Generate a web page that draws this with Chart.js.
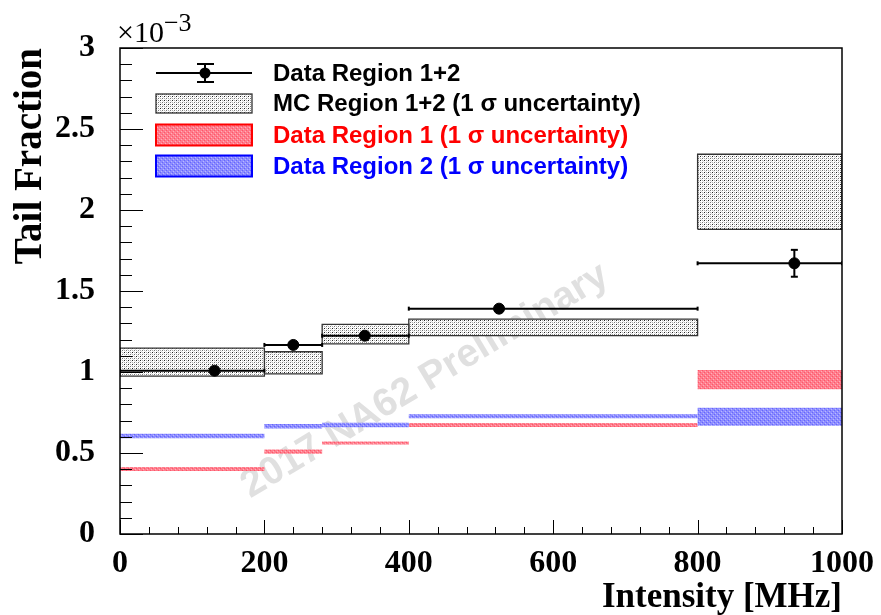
<!DOCTYPE html>
<html>
<head>
<meta charset="utf-8">
<script src="https://cdn.jsdelivr.net/npm/chart.js@4.4.1/dist/chart.umd.min.js"></script>
<style>
  body { margin: 0; background: #fff; }
  canvas { display: block; }
</style>
</head>
<body>
<canvas id="myChart" width="881" height="615"></canvas>
<script>
// bins in MHz
const binEdges = [0, 200, 280, 400, 800, 1000];

// data region 1+2 (points with errors), units of 1e-3
const dataX = [131, 240, 339, 525, 934];
const dataY = [1.008, 1.167, 1.224, 1.391, 1.671];
const dataYErr = [0.012, 0.012, 0.013, 0.015, 0.083];

// MC region 1+2, 1 sigma band
const mcLow = [0.975, 0.988, 1.173, 1.224, 1.881];
const mcHigh = [1.147, 1.125, 1.294, 1.327, 2.344];

// data region 1, 1 sigma band
const r1Low = [0.389, 0.495, 0.553, 0.661, 0.893];
const r1High = [0.414, 0.521, 0.571, 0.685, 1.012];

// data region 2, 1 sigma band
const r2Low = [0.591, 0.651, 0.659, 0.714, 0.668];
const r2High = [0.619, 0.679, 0.687, 0.739, 0.780];

const xTicks = [0, 200, 400, 600, 800, 1000];
const yTicks = [0, 0.5, 1, 1.5, 2, 2.5, 3];

const legendLabels = [
  "Data Region 1+2",
  "MC Region 1+2 (1 \u03c3 uncertainty)",
  "Data Region 1 (1 \u03c3 uncertainty)",
  "Data Region 2 (1 \u03c3 uncertainty)",
];
const legendColors = ["#000000", "#000000", "#ff0000", "#0000ff"];

/*fill patterns like the ROOT hatches*/
function makePattern(size, base, dots) {
  const c = document.createElement("canvas");
  c.width = size;
  c.height = size;
  const g = c.getContext("2d");
  g.fillStyle = base;
  g.fillRect(0, 0, size, size);
  dots.forEach((d) => {
    g.fillStyle = d[2];
    g.fillRect(d[0], d[1], 1, 1);
  });
  return g.createPattern(c, "repeat");
}
const ctx = document.getElementById("myChart").getContext("2d");
const mcPattern = makePattern(4, "#ffffff", [
  [0, 0, "#222"], [2, 2, "#777"], [0, 2, "#aaa"], [2, 0, "#aaa"],
  [1, 3, "#ddd"], [3, 1, "#ddd"],
]);
const redPattern = makePattern(4, "rgb(255,125,140)", [
  [0, 0, "rgb(255,85,105)"], [2, 2, "rgb(255,85,105)"],
  [1, 3, "rgb(255,175,185)"], [3, 1, "rgb(255,175,185)"],
]);
const bluePattern = makePattern(4, "rgb(140,140,255)", [
  [0, 0, "rgb(100,100,255)"], [2, 2, "rgb(100,100,255)"],
  [1, 3, "rgb(185,185,255)"], [3, 1, "rgb(185,185,255)"],
]);

function box(x0, x1, lo, hi) {
  return [
    { x: x0, y: lo }, { x: x1, y: lo }, { x: x1, y: hi },
    { x: x0, y: hi }, { x: x0, y: lo },
  ];
}

/*datasets, first one is drawn on top*/
const datasets = [];
datasets.push({
  label: legendLabels[0],
  data: dataX.map((x, i) => ({ x: x, y: dataY[i] })),
  pointRadius: 5.5,
  pointBackgroundColor: "#000",
  pointBorderColor: "#000",
  showLine: false,
});
for (let i = 0; i < dataX.length; i++) {
  datasets.push({
    data: [
      { x: dataX[i], y: dataY[i] - dataYErr[i] },
      { x: dataX[i], y: dataY[i] + dataYErr[i] },
    ],
    showLine: true,
    borderColor: "#000",
    borderWidth: 2,
    pointStyle: "line",
    pointRadius: 3.5,
    pointBorderWidth: 2,
    pointBorderColor: "#000",
  });
  datasets.push({
    data: [
      { x: binEdges[i], y: dataY[i] },
      { x: binEdges[i + 1], y: dataY[i] },
    ],
    showLine: true,
    borderColor: "#000",
    borderWidth: 2,
    pointStyle: "line",
    pointRotation: 90,
    pointRadius: 2,
    pointBorderWidth: 2,
    pointBorderColor: "#000",
  });
}
const bands = [
  [r2Low, r2High, bluePattern, "rgba(0,0,0,0)", 0],
  [r1Low, r1High, redPattern, "rgba(0,0,0,0)", 0],
  [mcLow, mcHigh, mcPattern, "#333", 1.3],
];
bands.forEach((b) => {
  for (let i = 0; i < b[0].length; i++) {
    datasets.push({
      data: box(binEdges[i], binEdges[i + 1], b[0][i], b[1][i]),
      showLine: true,
      fill: "shape",
      tension: 0,
      backgroundColor: b[2],
      borderColor: b[3],
      borderWidth: b[4],
      pointRadius: 0,
    });
  }
});

const serifBold = { family: "'Liberation Serif', 'Times New Roman', serif", weight: "bold", size: 32 };

const decorations = {
  id: "decorations",
  beforeDatasetsDraw(chart) {
    const c = chart.ctx;
    c.save();
    c.translate(425, 381);
    c.rotate(-31 * Math.PI / 180);
    c.font = "bold 39px 'Liberation Sans', Arial, sans-serif";
    c.fillStyle = "#e0e0e0";
    c.textAlign = "center";
    c.textBaseline = "middle";
    c.fillText("2017 NA62 Preliminary", 0, 0);
    c.restore();
  },
  afterDatasetsDraw(chart) {
    const c = chart.ctx;
    const a = chart.chartArea;
    const xs = chart.scales.x;
    const ys = chart.scales.y;
    c.save();
    c.strokeStyle = "#000";
    c.lineWidth = 1;
    c.beginPath();
    for (let v = 0; v <= 1000; v += 40) {
      const px = Math.round(xs.getPixelForValue(v)) + 0.5;
      const len = v % 200 === 0 ? 14 : 7;
      c.moveTo(px, a.bottom);
      c.lineTo(px, a.bottom - len);
    }
    for (let i = 0; i <= 30; i++) {
      const py = Math.round(ys.getPixelForValue(i / 10)) + 0.5;
      const len = i % 5 === 0 ? 23 : 12;
      c.moveTo(a.left, py);
      c.lineTo(a.left + len, py);
    }
    c.stroke();
    c.lineWidth = 1.5;
    c.strokeRect(a.left, a.top, a.right - a.left, a.bottom - a.top);
    c.restore();
  },
  afterDraw(chart) {
    const c = chart.ctx;
    c.save();
    // exponent of the y axis
    c.fillStyle = "#000";
    c.textAlign = "left";
    c.textBaseline = "alphabetic";
    c.font = "30px 'Liberation Serif', serif";
    c.fillText("\u00d710", 117, 42);
    const w = c.measureText("\u00d710").width;
    c.font = "26px 'Liberation Serif', serif";
    c.fillText("\u22123", 117 + w, 31);

    // legend
    const symL = 156, symR = 252, textX = 273;
    const rowY = [73, 103.5, 135, 166];
    const fills = [null, mcPattern, redPattern, bluePattern];
    const borders = [null, "#333", "#ff0000", "#0000ff"];
    c.strokeStyle = "#000";
    c.lineWidth = 2;
    c.beginPath();
    c.moveTo(symL, rowY[0]);
    c.lineTo(symR, rowY[0]);
    c.moveTo(205, rowY[0] - 9);
    c.lineTo(205, rowY[0] + 9);
    c.moveTo(197, rowY[0] - 9);
    c.lineTo(214, rowY[0] - 9);
    c.moveTo(197, rowY[0] + 9);
    c.lineTo(214, rowY[0] + 9);
    c.stroke();
    c.fillStyle = "#000";
    c.beginPath();
    c.arc(205, rowY[0], 5.5, 0, Math.PI * 2);
    c.fill();
    for (let i = 1; i < 4; i++) {
      const h = i === 1 ? 19 : 21;
      c.fillStyle = fills[i];
      c.fillRect(symL, rowY[i] - h / 2, symR - symL, h);
      c.strokeStyle = borders[i];
      c.lineWidth = i === 1 ? 1.3 : 2;
      c.strokeRect(symL, rowY[i] - h / 2, symR - symL, h);
    }
    c.font = "bold 24px 'Liberation Sans', Arial, sans-serif";
    c.textBaseline = "middle";
    legendLabels.forEach((t, i) => {
      c.fillStyle = legendColors[i];
      c.fillText(t, textX, rowY[i] + 1);
    });
    c.restore();
  },
};

new Chart(ctx, {
  type: "scatter",
  data: { datasets: datasets },
  options: {
    responsive: false,
    animation: false,
    layout: { padding: { top: 48, right: 39, left: 0, bottom: 0 } },
    plugins: {
      legend: { display: false },
      tooltip: { enabled: false },
    },
    scales: {
      x: {
        type: "linear",
        min: 0,
        max: 1000,
        afterBuildTicks: (scale) => {
          scale.ticks = xTicks.map((v) => ({ value: v }));
        },
        afterFit: (scale) => {
          scale.height = 81;
        },
        ticks: {
          color: "#000",
          font: serifBold,
          padding: 3,
          maxRotation: 0,
          callback: (v) => String(v),
        },
        grid: { display: false },
        border: { display: false },
        title: {
          display: true,
          text: "Intensity [MHz]",
          align: "end",
          color: "#000",
          font: { family: serifBold.family, weight: "bold", size: 35, lineHeight: 1 },
          padding: { top: 0, bottom: 0 },
        },
      },
      y: {
        min: 0,
        max: 3,
        afterBuildTicks: (scale) => {
          scale.ticks = yTicks.map((v) => ({ value: v }));
        },
        afterFit: (scale) => {
          scale.width = 120;
        },
        ticks: {
          color: "#000",
          font: serifBold,
          padding: 17,
          callback: (v) => String(v),
        },
        grid: { display: false },
        border: { display: false },
        title: {
          display: true,
          text: "Tail Fraction",
          align: "end",
          color: "#000",
          font: { family: serifBold.family, weight: "bold", size: 39, lineHeight: 1 },
          padding: { top: 11, bottom: 0 },
        },
      },
    },
  },
  plugins: [decorations],
});
</script>
</body>
</html>
